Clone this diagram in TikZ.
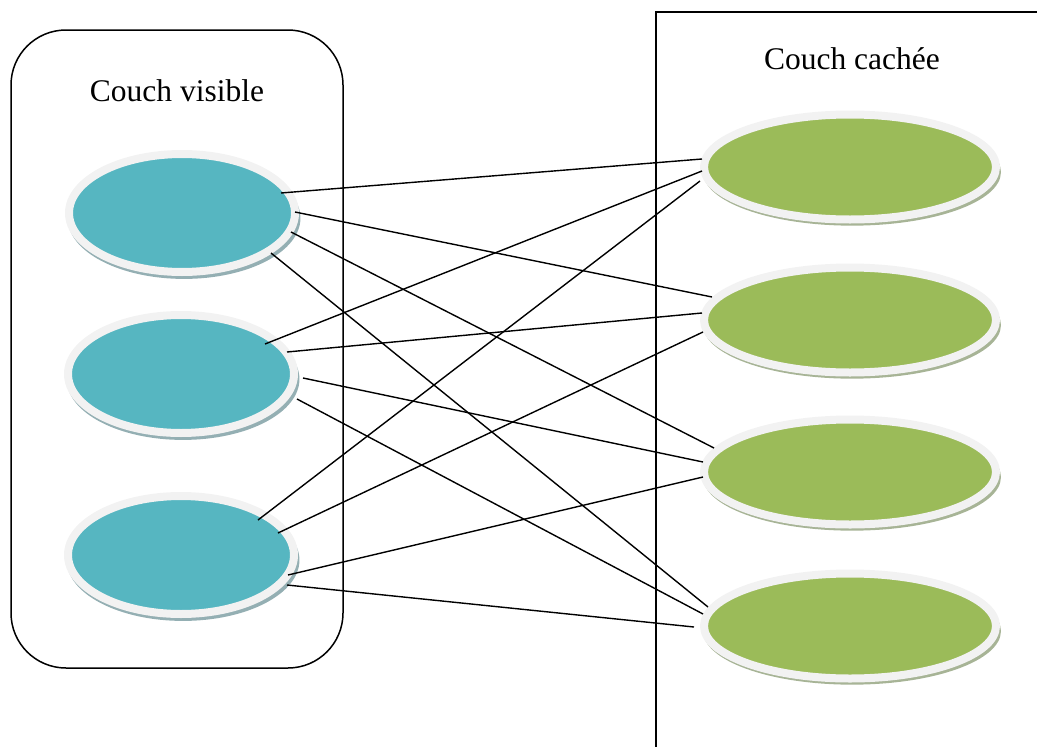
\documentclass[tikz,border=0pt]{standalone}
\usepackage{fontspec}
\setmainfont{Liberation Serif}
\usetikzlibrary{shapes.geometric,shadows,calc}
\definecolor{bluefill}{HTML}{56B6C1}
\definecolor{greenfill}{HTML}{9BBB59}
\definecolor{rimcol}{HTML}{F2F2F2}
\definecolor{blueshadow}{HTML}{94AFB3}
\definecolor{greenshadow}{HTML}{A7B496}
\tikzset{
  frame/.style={draw=black, line width=1.5pt},
  label/.style={font=\fontsize{31.5}{38}\selectfont, inner sep=0pt},
  visnode/.style={ellipse, inner sep=0pt, minimum width=226pt, minimum height=118pt,
    fill=bluefill, draw=rimcol, line width=8pt,
    drop shadow={shadow xshift=2pt, shadow yshift=-5pt, shadow scale=1.03, fill=blueshadow, opacity=1}},
  hidnode/.style={ellipse, inner sep=0pt, minimum width=292pt, minimum height=105pt,
    fill=greenfill, draw=rimcol, line width=8pt,
    drop shadow={shadow xshift=2pt, shadow yshift=-5pt, shadow scale=1.02, fill=greenshadow, opacity=1}},
  link/.style={draw=black, line width=1.4pt}
}
\begin{document}
\begin{tikzpicture}[x=1pt,y=-1pt]
\useasboundingbox (0,0) rectangle (1037,747);
% frames
\draw[frame, rounded corners=55pt] (11,30) rectangle (343,668);
\draw[frame] (656,747) -- (656,12) -- (1037,12);
\node[label] (tvis) at (177,91) {Couch visible};
\node[label] (thid) at (852,59) {Couch cachée};
% nodes
\node[visnode] (b1) at (182,213) {};
\node[visnode] (b2) at (181,374) {};
\node[visnode] (b3) at (181,555) {};
\node[hidnode] (g1) at (850,167) {};
\node[hidnode] (g2) at (850,320) {};
\node[hidnode] (g3) at (850,472) {};
\node[hidnode] (g4) at (850,626) {};
% connector end points
\coordinate (b1a) at ($(b1)+(99,-20)$);
\coordinate (b1b) at ($(b1)+(113,-1)$);
\coordinate (b1c) at ($(b1)+(109,19)$);
\coordinate (b1d) at ($(b1)+(89,40)$);
\coordinate (b2a) at ($(b2)+(84,-30)$);
\coordinate (b2b) at ($(b2)+(106,-22)$);
\coordinate (b2c) at ($(b2)+(122,4)$);
\coordinate (b2d) at ($(b2)+(116,25)$);
\coordinate (b3a) at ($(b3)+(77,-35)$);
\coordinate (b3b) at ($(b3)+(97,-22)$);
\coordinate (b3c) at ($(b3)+(107,20)$);
\coordinate (b3d) at ($(b3)+(106,30)$);
\coordinate (g1a) at ($(g1)+(-148,-8)$);
\coordinate (g1b) at ($(g1)+(-148,4)$);
\coordinate (g1c) at ($(g1)+(-150,14)$);
\coordinate (g2a) at ($(g2)+(-138,-23)$);
\coordinate (g2b) at ($(g2)+(-148,-7)$);
\coordinate (g2c) at ($(g2)+(-147,12)$);
\coordinate (g3a) at ($(g3)+(-136,-24)$);
\coordinate (g3b) at ($(g3)+(-147,-10)$);
\coordinate (g3c) at ($(g3)+(-147,5)$);
\coordinate (g4a) at ($(g4)+(-142,-19)$);
\coordinate (g4b) at ($(g4)+(-147,-12)$);
\coordinate (g4c) at ($(g4)+(-156,1)$);
% connectors
\draw[link] (b1a) -- (g1a);
\draw[link] (b1b) -- (g2a);
\draw[link] (b1c) -- (g3a);
\draw[link] (b1d) -- (g4a);
\draw[link] (b2a) -- (g1b);
\draw[link] (b2b) -- (g2b);
\draw[link] (b2c) -- (g3b);
\draw[link] (b2d) -- (g4b);
\draw[link] (b3a) -- (g1c);
\draw[link] (b3b) -- (g2c);
\draw[link] (b3c) -- (g3c);
\draw[link] (b3d) -- (g4c);
\end{tikzpicture}
\end{document}
